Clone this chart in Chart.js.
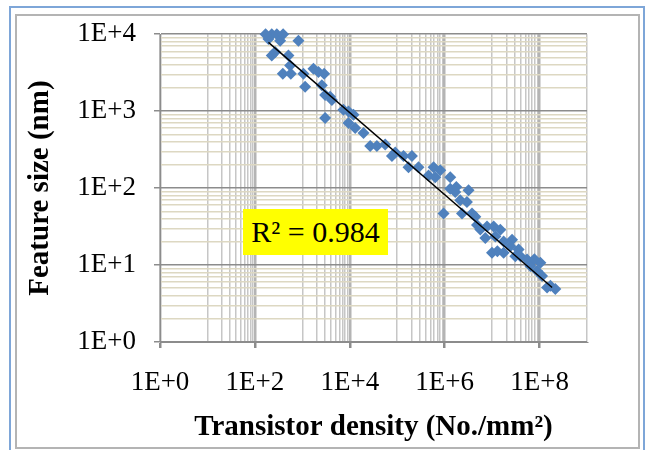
<!DOCTYPE html>
<html>
<head>
<meta charset="utf-8">
<script src="https://cdn.jsdelivr.net/npm/chart.js@4.4.1/dist/chart.umd.min.js"></script>
<style>
  body { margin: 0; background: #fff; }
  #wrap { position: relative; width: 646px; height: 450px; overflow: hidden; }
  #outer { position: absolute; left: 9px; top: 6px; width: 632px; height: 460px; border: 2px solid #7ea6d8; }
  #inner { position: absolute; left: 15px; top: 14px; width: 621px; height: 431px; border: 2px solid #b4b4b4; }
  #chartCanvas { position: absolute; left: 0; top: 0; }
  #r2 { position: absolute; left: 243px; top: 209px; width: 145px; height: 46px; background: #ffff00;
        font-family: 'Liberation Serif', serif; font-size: 30px; line-height: 46px; text-align: center; color: #000; }
</style>
</head>
<body>
<div id="wrap">
  <div id="outer"></div>
  <div id="inner"></div>
  <canvas id="chartCanvas" width="646" height="450"></canvas>
  <div id="r2">R² = 0.984</div>
</div>
<script>
// values (density in No./mm2, feature size in nm)
const densityValues = [
  227, 290, 193, 340, 828, 227, 267, 509, 553, 388,
  572, 1055, 1714, 2187, 2884, 1146, 2578, 3027, 3857, 4190,
  7360, 9390, 11970, 3027, 9390, 13000, 19450, 26920, 37300, 55800,
  77300, 135800, 204000, 173000, 281000, 583000, 457000, 634000, 1.31e6, 1.31e6,
  3.19e6, 948000, 2.13e6, 2.95e6, 2.32e6, 3.77e6, 4.8e6, 7.8e6, 1.08e7, 1.49e7,
  7.19e6, 1.17e7, 1.75e7, 2.63e7, 9.95e6, 1.75e7, 3.62e7, 3.94e7, 5.45e7, 1.04e8,
  8.85e7, 1.13e8, 1.69e8, 1.44e8, 168, 394, 1.76e6, 4.42e6, 5.64e6, 2.42e7,
  6.4e7, 7.77e7, 2.15e8, 1.29e7, 3.08e7, 1.67e6, 808000, 90800
];
const featureSizes = [
  10000, 10000, 8630, 8200, 8200, 5270, 5880, 5270, 3930, 3070,
  3070, 3070, 3560, 3230, 3070, 2070, 2170, 1620, 1540, 1400,
  1040, 991, 897, 813, 702, 605, 522, 352, 352, 370,
  262, 262, 262, 186, 186, 186, 146, 138, 138, 98,
  93.5, 46.9, 69.5, 66.2, 46.9, 46.9, 33.2, 31.6, 31.6, 28.7,
  22.4, 23.5, 20.3, 21.3, 14.4, 14.4, 15.9, 13.0, 11.8, 10.7,
  8.4, 7.2, 5.4, 5.1, 10000, 10000, 103, 42.5, 29.0, 17.5,
  9.7, 11.9, 4.9, 15.1, 13.0, 88.9, 170, 290
];
// power-law trend line end points
const trendDensity = [193, 1.84e8];
const trendSize = [7830, 5.12];

const xTickValues = [1, 1e2, 1e4, 1e6, 1e8];
const xTickLabels = ['1E+0', '1E+2', '1E+4', '1E+6', '1E+8'];
const yTickValues = [1, 10, 100, 1000, 10000];
const yTickLabels = ['1E+0', '1E+1', '1E+2', '1E+3', '1E+4'];

function findTick(list, v) {
    return list.findIndex(t => Math.abs(t - v) < t * 1e-6);
}

// grid positions: x axis uses base 100 (minor lines at k*10^odd), y axis base 10
const xGrid = [];
for (let e = 0; e <= 8; e += 2) {
    xGrid.push(Math.pow(10, e));
    if (e < 8) {
        for (let k = 1; k <= 9; k++) xGrid.push(k * Math.pow(10, e + 1));
    }
}
xGrid.push(1e9);
const yGrid = [];
for (let e = 0; e < 4; e++) {
    for (let k = 1; k <= 9; k++) yGrid.push(k * Math.pow(10, e));
}
yGrid.push(10000);

const serif = "'Liberation Serif', 'Times New Roman', serif";

const ctx = document.getElementById('chartCanvas').getContext('2d');
const chart = new Chart(ctx, {
    type: 'scatter',
    data: {
        datasets: [{
            label: 'Trend',
            data: trendDensity.map((x, i) => ({ x: x, y: trendSize[i] })),
            showLine: true,
            borderColor: '#000000',
            borderWidth: 1.4,
            pointRadius: 0
        }, {
            label: 'Feature size',
            data: densityValues.map((x, i) => ({ x: x, y: featureSizes[i] })),
            pointStyle: 'rectRot',
            pointRadius: 6,
            backgroundColor: '#4f81bd',
            borderWidth: 0,
            clip: false
        }]
    },
    options: {
        responsive: false,
        animation: false,
        devicePixelRatio: 1,
        layout: { padding: { top: 30, right: 59, left: 0, bottom: 0 } },
        plugins: {
            legend: { display: false },
            tooltip: { enabled: false }
        },
        scales: {
            x: {
                type: 'logarithmic',
                min: 1,
                max: 1e9,
                afterBuildTicks: scale => { scale.ticks = xGrid.map(v => ({ value: v })); },
                afterFit: scale => { scale.height = 108; },
                border: { display: true, color: '#8c8c8c', width: 1 },
                grid: {
                    color: c => findTick(xTickValues, c.tick.value) >= 0 ? '#b4b4b4' : '#c6c6c6',
                    lineWidth: c => findTick(xTickValues, c.tick.value) >= 0 ? 2.5 : 1.5,
                    tickColor: c => findTick(xTickValues, c.tick.value) >= 0 ? '#8c8c8c' : 'rgba(0,0,0,0)',
                    tickLength: 6
                },
                ticks: {
                    autoSkip: false,
                    maxRotation: 0,
                    padding: 19,
                    color: '#000',
                    font: { family: serif, size: 27 },
                    callback: v => { const i = findTick(xTickValues, v); return i >= 0 ? xTickLabels[i] : ''; }
                },
                title: {
                    display: true,
                    text: 'Transistor density (No./mm²)',
                    color: '#000',
                    font: { family: serif, size: 29, weight: 'bold' },
                    padding: { top: 2, bottom: 5 }
                }
            },
            y: {
                type: 'logarithmic',
                min: 1,
                max: 10000,
                afterBuildTicks: scale => { scale.ticks = yGrid.map(v => ({ value: v })); },
                afterFit: scale => { scale.width = 160; },
                border: { display: true, color: '#8c8c8c', width: 1 },
                grid: {
                    color: c => findTick(yTickValues, c.tick.value) >= 0 ? '#8c8c8c' : '#ddd8c2',
                    lineWidth: 1.5,
                    tickColor: c => findTick(yTickValues, c.tick.value) >= 0 ? '#8c8c8c' : 'rgba(0,0,0,0)',
                    tickLength: 6
                },
                ticks: {
                    autoSkip: false,
                    padding: 18,
                    color: '#000',
                    font: { family: serif, size: 27 },
                    callback: v => { const i = findTick(yTickValues, v); return i >= 0 ? yTickLabels[i] : ''; }
                },
                title: {
                    display: true,
                    text: 'Feature size (nm)',
                    color: '#000',
                    font: { family: serif, size: 29, weight: 'bold' },
                    padding: { top: 23, bottom: 0 }
                }
            }
        }
    }
});
</script>
</body>
</html>
